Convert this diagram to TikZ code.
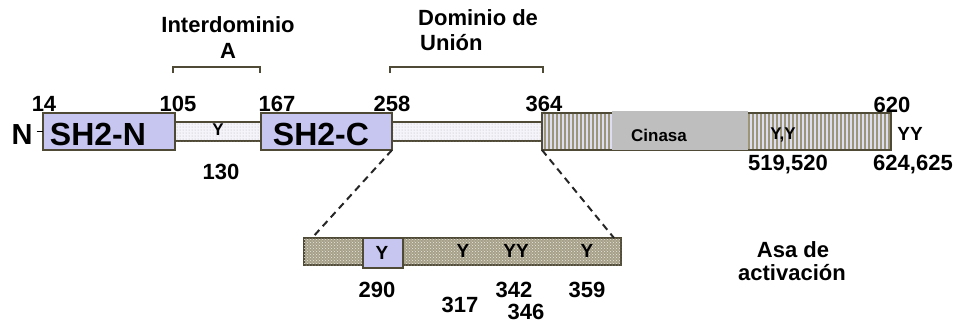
\documentclass[tikz,border=0pt]{standalone}
\usepackage{fontspec}
\setmainfont{Liberation Sans}
\usetikzlibrary{patterns}

\definecolor{edge}{HTML}{4F4A36}
\definecolor{lav}{HTML}{C6C6F0}
\definecolor{linkfill}{HTML}{F4F4FA}
\definecolor{stripe}{HTML}{9C9576}
\definecolor{stripebg}{HTML}{DCDCF2}
\definecolor{loopfill}{HTML}{A6A088}
\definecolor{kin}{HTML}{BEBEBE}

\tikzset{
  box/.style={draw=edge, line width=1.2pt, inner sep=0, outer sep=0},
  sh2box/.style={box, fill=lav},
  linkbox/.style={box, fill=linkfill, postaction={pattern=dots, pattern color=gray!60}},
  loopbox/.style={box, fill=loopfill, postaction={pattern=crosshatch dots, pattern color=white!75!loopfill}},
  txt/.style={inner sep=0, font=\bfseries\fontsize{22}{24}\selectfont},
  num/.style={txt},
  big/.style={inner sep=0, font=\bfseries\fontsize{32}{34}\selectfont},
  tyr/.style={inner sep=0, font=\bfseries\fontsize{19}{21}\selectfont},
  tyrsmall/.style={inner sep=0, font=\bfseries\fontsize{17}{19}\selectfont},
  zoomline/.style={dash pattern=on 7pt off 5pt, line width=2pt, black!85},
  bracket/.style={line width=1.4pt, edge}
}

\begin{document}
\begin{tikzpicture}[x=1pt, y=-1pt]
\useasboundingbox (0,0) rectangle (956,325);

% domain labels with their brackets
\node[txt] (inter) at (228,25) {Interdominio};
\node[txt] (interA) at (228,51) {A};
\draw[bracket] (173,73) -- (173,67) -- (260,67) -- (260,73);

\node[txt, anchor=west] (dom) at (418,18) {Dominio de};
\node[txt, anchor=west] (union) at (420,43) {Unión};
\draw[bracket] (390,73) -- (390,67) -- (543,67) -- (543,73);

% main chain
\node[linkbox, minimum width=86pt, minimum height=19pt] (link1) at (218,131.5) {};
\node[linkbox, minimum width=150pt, minimum height=19pt] (link2) at (467,131.5) {};
\node[sh2box, minimum width=132pt, minimum height=37pt] (sh2n) at (109,131.5) {};
\node[sh2box, minimum width=131pt, minimum height=37pt] (sh2c) at (326.5,131.5) {};

% kinase region with vertical stripes
\node[box, fill=stripebg, minimum width=349pt, minimum height=37pt] (kinase) at (716.5,131.5) {};
\begin{scope}
  \clip (542,113) rectangle (891,150);
  \foreach \x in {545,549,...,890} \draw[stripe, line width=1.7pt] (\x,113) -- (\x,150);
\end{scope}
\draw[edge, line width=1.2pt] (542,113) rectangle (891,150);
\node[fill=kin, inner sep=0, minimum width=136pt, minimum height=39pt] (cinbox) at (680,130.5) {};
\draw[edge, line width=1pt, densely dashed] (cinbox.south west) -- (cinbox.south east);
\node[inner sep=0, font=\bfseries\fontsize{17}{19}\selectfont] (cin) at (659,135) {Cinasa};

% N terminus
\node[inner sep=0, font=\bfseries\fontsize{29}{31}\selectfont] (nterm) at (22,135) {N};
\draw[line width=1.8pt] ([xshift=4pt]nterm.east |- sh2n.west) -- (sh2n.west);

\node[big] (sh2ntxt) at (98,134) {SH2-N};
\node[big] (sh2ctxt) at (321,134) {SH2-C};

% tyrosines on the main chain
\node[tyrsmall] (y130) at (218,130) {Y};
\node[tyrsmall] (y519) at (783,135) {Y,Y};
\node[tyr] (y624) at (910,134) {YY};

% residue numbers
\node[num] (n14) at (44,104) {14};
\node[num] (n105) at (178,104) {105};
\node[num] (n167) at (277,104) {167};
\node[num] (n258) at (392,104) {258};
\node[num] (n364) at (544,104) {364};
\node[num] (n620) at (892,105) {620};
\node[num] (n130) at (221,172) {130};
\node[num] (n519) at (788,165) {519,520};
\node[num] (n624) at (913,165) {624,625};

% expanded linker
\node[loopbox, minimum width=317pt, minimum height=27pt] (loop) at (462.5,251.5) {};
\node[sh2box, minimum width=40pt, minimum height=30pt] (y290box) at (383,253) {};
\draw[zoomline] (sh2c.south east) -- ([xshift=8pt]loop.north west);
\draw[zoomline] (kinase.south west) -- ([xshift=-7pt]loop.north east);

\node[tyr] (y290) at (382,253) {Y};
\node[tyr] (y317) at (463,251) {Y};
\node[tyr] (y342) at (516,251) {YY};
\node[tyr] (y359) at (587,251) {Y};

\node[num] (n290) at (377,290) {290};
\node[num] (n317) at (460,305) {317};
\node[num] (n342) at (514,290) {342};
\node[num] (n346) at (526,312) {346};
\node[num] (n359) at (587,290) {359};

\node[txt] (asa) at (793,250) {Asa de};
\node[txt] (activ) at (792,273) {activación};
\end{tikzpicture}
\end{document}
